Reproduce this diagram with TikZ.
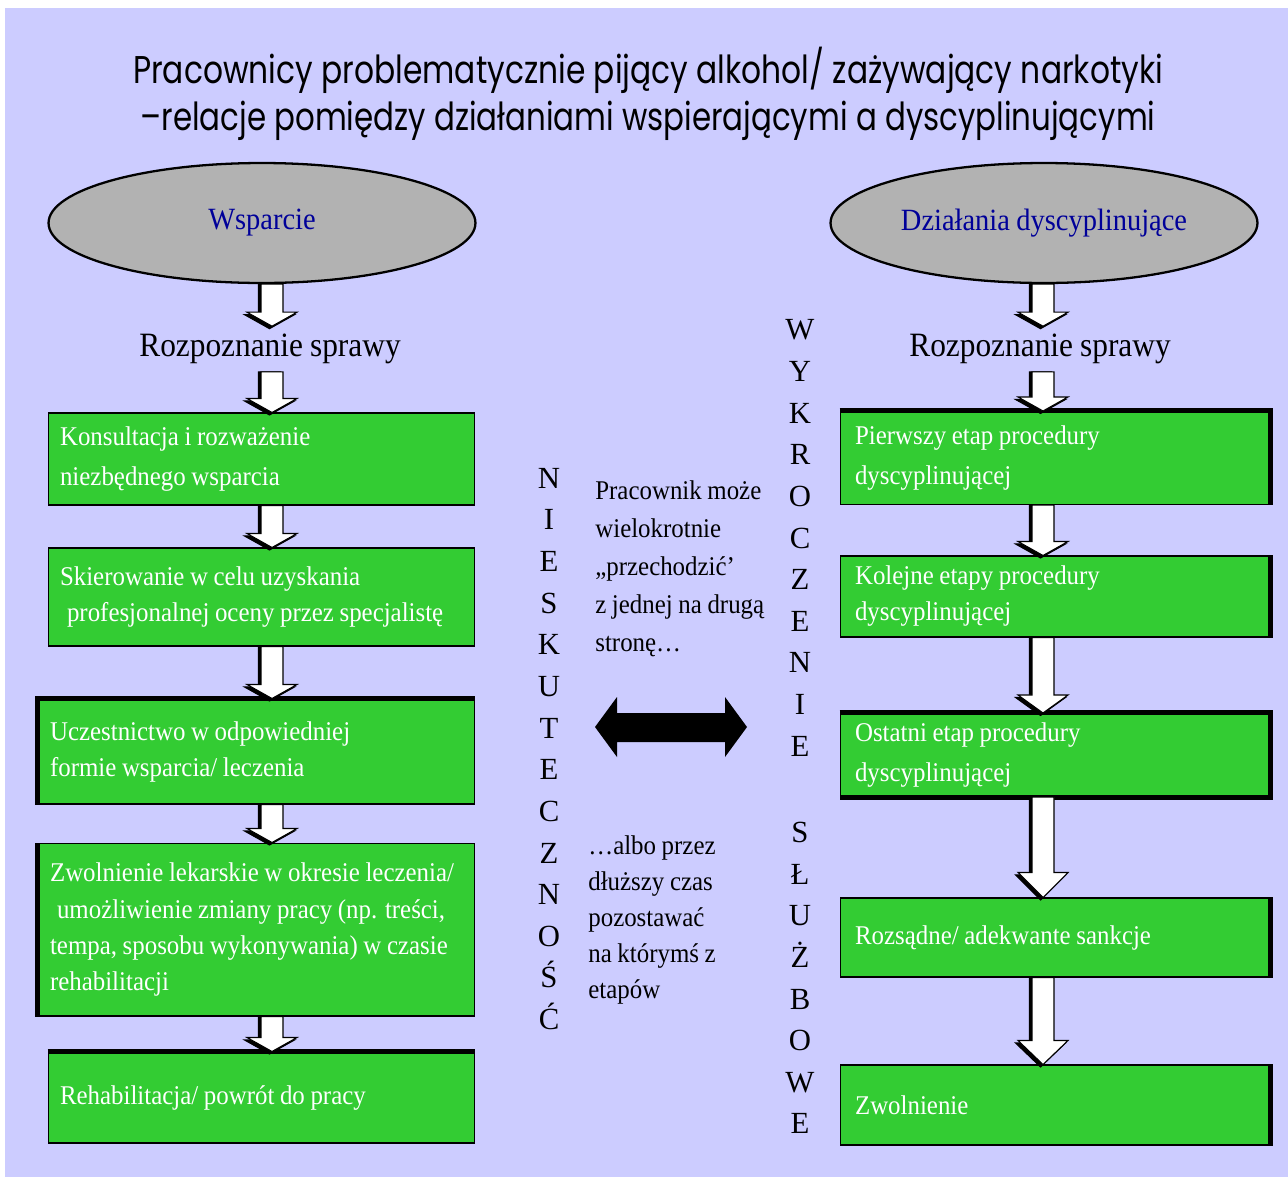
\documentclass[tikz,border=0pt]{standalone}
\usepackage{fontspec}
\usepackage{graphicx}
\usetikzlibrary{shapes.geometric,calc}

\setmainfont{Liberation Serif}[FakeStretch=0.92, WordSpace=0.9]
\newfontfamily\capsfont{Liberation Serif}
\newfontfamily\titlefont{Poppins}

\definecolor{tlo}{RGB}{204,204,255}
\definecolor{zielony}{RGB}{51,204,51}
\definecolor{szary}{RGB}{178,178,178}
\definecolor{granat}{RGB}{0,0,153}

% biala strzalka blokowa z czarnym cieniem: [dlugosc grotu]{skad}{dokad}
\newcommand{\blockarrow}[3][0.28cm]{%
  \foreach \przes/\kol in {0.05cm/black,0cm/white}
    \draw[fill=\kol, line width=0.6pt] let \p1=(#2), \p2=(#3) in
      (\x1-0.22cm-\przes,\y1) -- (\x1+0.22cm-\przes,\y1) -- (\x1+0.22cm-\przes,\y2+#1-\przes)
      -- (\x1+0.5cm-\przes,\y2+#1-\przes) -- (\x1-\przes,\y2-\przes)
      -- (\x1-0.5cm-\przes,\y2+#1-\przes) -- (\x1-0.22cm-\przes,\y2+#1-\przes) -- cycle;
}

\begin{document}
\begin{tikzpicture}[x=0.02cm,y=-0.02cm,
    box/.style={draw=black, line width=0.6pt, fill=zielony, text=white, align=flush left,
      font=\fontsize{15.4}{20.5}\selectfont, minimum height=#1, inner ysep=0pt},
    luzno/.style={font=\fontsize{15.4}{22.8}\selectfont},
    lewy/.style={text width=8.06cm, inner xsep=0.24cm},
    lewyszer/.style={text width=8.26cm, inner xsep=0.24cm},
    prawy/.style={text width=8.0cm, inner xsep=0.3cm},
    owal/.style={ellipse, draw=black, line width=1.3pt, fill=szary, minimum width=8.54cm,
      minimum height=2.4cm, text=granat, font=\fontsize{17.6}{20}\selectfont},
    naglowek/.style={font=\fontsize{19.4}{23}\selectfont, inner sep=0.15cm},
    pion/.style={align=center, inner sep=0pt, font=\capsfont\fontsize{17.5}{23.7}\selectfont},
    opis/.style={align=flush left, anchor=west, inner sep=0pt},
    pasek/.style={line width=0.1cm}]

    % tlo
    \useasboundingbox (0,0) rectangle (1288,1177);
    \fill[tlo] (5,8) rectangle (1288,1177);

    % tytul
    \node[align=center, font=\titlefont\fontsize{22}{26.8}\selectfont] (tytul) at (648,94)
      {\resizebox{20.6cm}{\height}{Pracownicy problematycznie pijący alkohol/ zażywający narkotyki}\\
       \resizebox{20.3cm}{\height}{–relacje pomiędzy działaniami wspierającymi a dyscyplinującymi}};

    % osie strzalek
    \coordinate (colL) at (272,0);
    \coordinate (colR) at (1043,0);

    % lewa kolumna - wsparcie
    \node[owal] (elL) at (262,223) {Wsparcie};
    \node[naglowek] (headL) at (270,349) {Rozpoznanie sprawy};
    \node[box=1.84cm, lewy, luzno] (L1) at (261.5,459) {Konsultacja i rozważenie\\niezbędnego wsparcia};
    \node[box=1.96cm, lewy] (L2) at (261.5,597) {Skierowanie w celu uzyskania\\\hspace{0.14cm}profesjonalnej oceny przez specjalistę};
    \node[box=2.1cm, lewyszer] (L3) at (256.5,751.5) {Uczestnictwo w odpowiedniej\\formie wsparcia/ leczenia};
    \node[box=3.46cm, lewyszer] (L4) at (256.5,929.5) {Zwolnienie lekarskie w okresie leczenia/\\\hspace{0.14cm}umożliwienie zmiany pracy (np. treści,\\tempa, sposobu wykonywania) w czasie\\rehabilitacji};
    \node[box=1.82cm, lewy] (L5) at (261.5,1097.5) {Rehabilitacja/ powrót do pracy};

    % prawa kolumna - dzialania dyscyplinujace
    \node[owal] (elR) at (1044,223) {Działania dyscyplinujące};
    \node[naglowek] (headR) at (1040,349) {Rozpoznanie sprawy};
    \node[box=1.86cm, prawy, luzno] (R1) at (1055,458) {Pierwszy etap procedury\\dyscyplinującej};
    \node[box=1.62cm, prawy] (R2) at (1055,596.5) {Kolejne etapy procedury\\dyscyplinującej};
    \node[box=1.66cm, prawy, luzno] (R3) at (1055,755) {Ostatni etap procedury\\dyscyplinującej};
    \node[box=1.58cm, prawy] (R4) at (1055,937.5) {Rozsądne/ adekwante sankcje};
    \node[box=1.6cm, prawy] (R5) at (1055,1105) {Zwolnienie};

    % grube krawedzie
    \draw[pasek] (L3.south west) -- (L3.north west) -- (L3.north east);
    \draw[pasek] (L4.south west) -- (L4.north west);
    \draw[pasek] (L5.north west) -- (L5.north east);
    \draw[pasek] (R1.north west) -- (R1.north east) -- (R1.south east);
    \draw[pasek] (R2.north east) -- (R2.south east);
    \draw[pasek] (R3.north west) -- (R3.north east) -- (R3.south east) -- (R3.south west);
    \draw[pasek] (R4.north east) -- (R4.south east);
    \draw[pasek] (R5.north east) -- (R5.south east);

    % strzalki
    \blockarrow{elL.south -| colL}{headL.north}
    \blockarrow{headL.south -| colL}{L1.north}
    \blockarrow{L1.south -| colL}{L2.north}
    \blockarrow{L2.south -| colL}{L3.north}
    \blockarrow{L3.south -| colL}{L4.north}
    \blockarrow{L4.south -| colL}{L5.north}
    \blockarrow{elR.south -| colR}{headR.north}
    \blockarrow{headR.south -| colR}{R1.north}
    \blockarrow{R1.south -| colR}{R2.north}
    \blockarrow[0.36cm]{R2.south -| colR}{R3.north}
    \blockarrow[0.5cm]{R3.south -| colR}{R4.north}
    \blockarrow[0.48cm]{R4.south -| colR}{R5.north}

    % napisy pionowe
    \node[pion] (niesk) at (549,749) {N\\I\\E\\S\\K\\U\\T\\E\\C\\Z\\N\\O\\Ś\\Ć};
    \node[pion] (wykr) at (800,538) {W\\Y\\K\\R\\O\\C\\Z\\E\\N\\I\\E};
    \node[pion] (sluzb) at (800,978) {S\\Ł\\U\\Ż\\B\\O\\W\\E};

    % opis srodkowy
    \node[opis, font=\fontsize{15.4}{21.6}\selectfont] (opis1) at (595,569)
      {Pracownik może\\wielokrotnie\\„przechodzić’\\z jednej na drugą\\stronę…};
    \node[opis, font=\fontsize{15.4}{20.5}\selectfont] (opis2) at (588,920)
      {…albo przez\\dłuższy czas\\pozostawać\\na którymś z\\etapów};

    % podwojna strzalka
    \fill[black] (595,727) -- (617,697) -- (617,713) -- (725,713) -- (725,697) -- (747,727)
      -- (725,757) -- (725,742) -- (617,742) -- (617,757) -- cycle;

\end{tikzpicture}
\end{document}
